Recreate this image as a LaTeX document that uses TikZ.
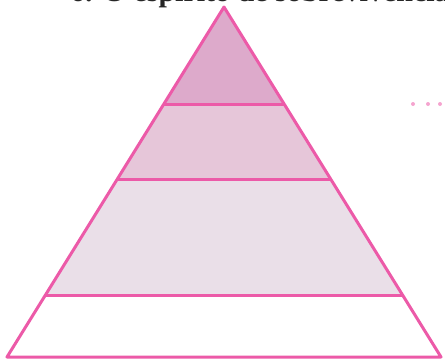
\documentclass[tikz,border=0pt]{standalone}
\usepackage{fontspec}
\setmainfont{Liberation Serif}
\definecolor{edgepink}{HTML}{EC5AA8}
\definecolor{tierA}{HTML}{DDAACB}
\definecolor{tierB}{HTML}{E6C6D9}
\definecolor{tierC}{HTML}{EADFE8}
\begin{document}
\begin{tikzpicture}[x=1pt,y=-1pt,
  edge/.style={draw=edgepink,line width=3pt,line join=round}]
\useasboundingbox (0,0) rectangle (445,360);
\begin{scope}
\clip (0,0) rectangle (445,360);
\node[anchor=base west,inner sep=0pt,font=\bfseries\fontsize{30}{30}\selectfont,text=black!85] (title) at (70,1) {6. O espírito de sobrevivência mais};
\end{scope}
\coordinate (apex) at (224,7);
\coordinate (bl) at (7,357);
\coordinate (br) at (441,357);
\coordinate (l1) at (163,104);
\coordinate (r1) at (285,104);
\coordinate (l2) at (117,179);
\coordinate (r2) at (331,179);
\coordinate (l3) at (46,295);
\coordinate (r3) at (402,295);
\fill[tierA] (apex) -- (l1) -- (r1) -- cycle;
\fill[tierB] (l1) -- (l2) -- (r2) -- (r1) -- cycle;
\fill[tierC] (l2) -- (l3) -- (r3) -- (r2) -- cycle;
\path[edge] (apex) -- (bl) -- (br) -- cycle;
\path[edge] (l1) -- (r1);
\path[edge] (l2) -- (r2);
\path[edge] (l3) -- (r3);
\foreach \x/\n in {413/d1,428/d2,440/d3}
  \fill[edgepink!55] (\x,104) circle (2pt);
\end{tikzpicture}
\end{document}
